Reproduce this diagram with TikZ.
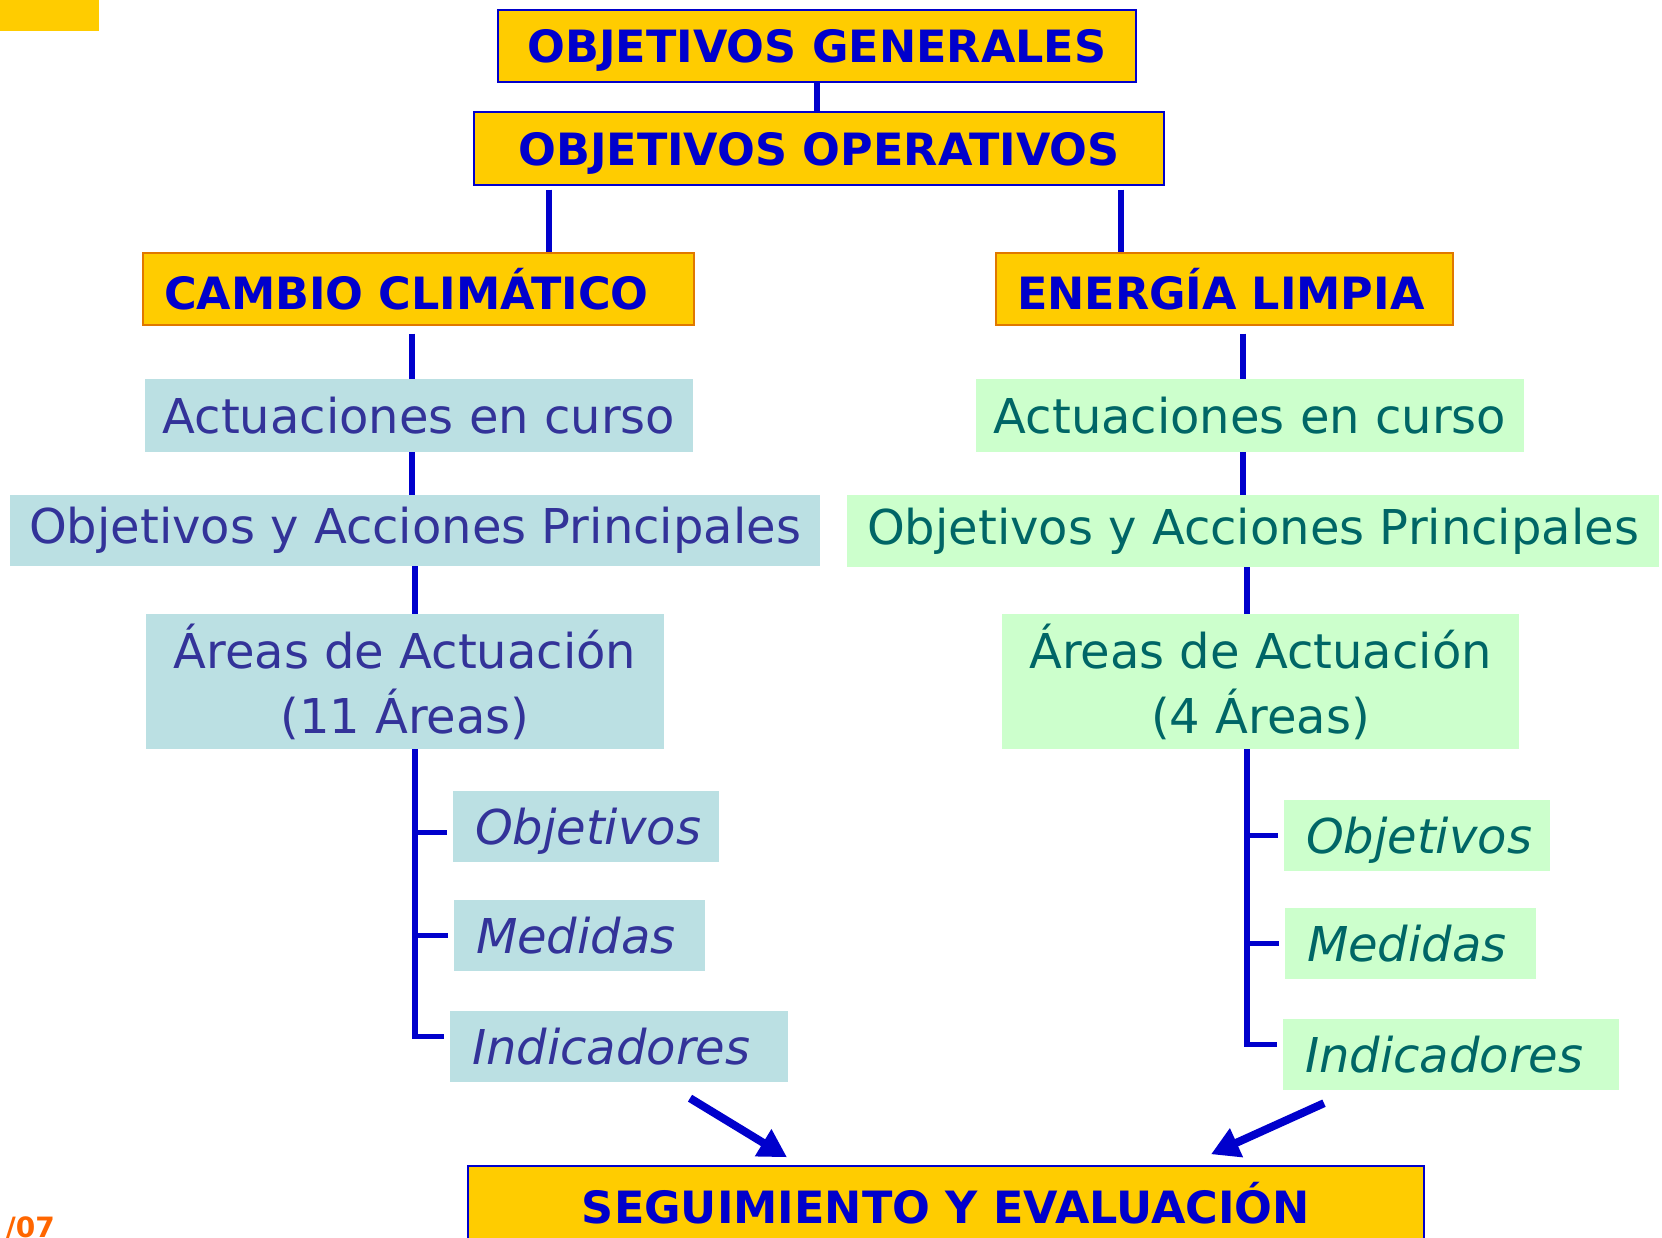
\documentclass[tikz,border=0pt]{standalone}
\usepackage{fontspec}
\setmainfont{DejaVu Sans}
\usepackage{tikz}
\usetikzlibrary{arrows.meta,positioning}
\definecolor{oro}{HTML}{FFCC00}
\definecolor{azul}{HTML}{0000CC}
\definecolor{naranja}{HTML}{E07800}
\definecolor{pagina}{HTML}{FF6600}
\definecolor{fondocc}{HTML}{BBE0E3}
\definecolor{tintacc}{HTML}{333399}
\definecolor{fondoel}{HTML}{CCFFCC}
\definecolor{tintael}{HTML}{006666}
\tikzset{x=1pt,y=-1pt,every node/.style={inner sep=0pt},
    titulo/.style={draw=azul,line width=1.5pt,fill=oro,text=azul,align=center,
        font=\fontsize{44.5}{50}\selectfont\bfseries},
    tema/.style={draw=naranja,line width=1.5pt,fill=oro,text=azul,align=left,inner xsep=21pt,
        font=\fontsize{44.5}{50}\selectfont\bfseries},
    cc/.style={fill=fondocc,text=tintacc,align=center,font=\fontsize{48}{65}\selectfont},
    el/.style={fill=fondoel,text=tintael,align=center,font=\fontsize{48}{65}\selectfont},
    lista/.style={align=left,inner xsep=22pt,text depth=0pt,font=\fontsize{48}{58}\selectfont\itshape},
    rama/.style={draw=azul,line width=5.5pt},
    flecha/.style={draw=azul,line width=8pt,-{Triangle[length=28pt,width=30pt]}}}

\begin{document}
\begin{tikzpicture}
    \useasboundingbox (0,0) rectangle (1662,1238);
    \fill[oro] (0,0) rectangle (99,31);
    \node[titulo,minimum width=638pt,minimum height=72pt,text height=42pt] (gen) at (817,46) {OBJETIVOS GENERALES};
    \node[titulo,minimum width=690pt,minimum height=73pt,text height=42pt] (op) at (819,148.5) {OBJETIVOS OPERATIVOS};
    \node[tema,text width=509pt,minimum height=72pt] (cc) at (418.5,289) {CAMBIO CLIMÁTICO};
    \node[tema,text width=415pt,minimum height=72pt] (el) at (1224.5,289) {ENERGÍA LIMPIA};
    % cambio climatico
    \node[cc,minimum width=548pt,minimum height=73pt] (a1) at (419,415.5) {Actuaciones en curso};
    \node[cc,minimum width=810pt,minimum height=71pt] (b1) at (415,530.5) {Objetivos y Acciones Principales};
    \node[cc,minimum width=518pt,minimum height=135pt] (c1) at (405,681.5) {Áreas de Actuación\\(11 Áreas)};
    \node[cc,lista,text width=222pt,minimum height=71pt] (o1) at (586,826.5) {Objetivos};
    \node[cc,lista,text width=207pt,minimum height=71pt] (m1) at (579.5,935.5) {Medidas};
    \node[cc,lista,text width=294pt,minimum height=71pt] (i1) at (619,1046.5) {Indicadores};
    % energia limpia
    \node[el,minimum width=548pt,minimum height=73pt] (a2) at (1250,415.5) {Actuaciones en curso};
    \node[el,minimum width=812pt,minimum height=72pt] (b2) at (1253,531) {Objetivos y Acciones Principales};
    \node[el,minimum width=517pt,minimum height=135pt] (c2) at (1260.5,681.5) {Áreas de Actuación\\(4 Áreas)};
    \node[el,lista,text width=222pt,minimum height=71pt] (o2) at (1417,835.5) {Objetivos};
    \node[el,lista,text width=207pt,minimum height=71pt] (m2) at (1410.5,943.5) {Medidas};
    \node[el,lista,text width=292pt,minimum height=71pt] (i2) at (1451,1054.5) {Indicadores};
    \node[titulo,minimum width=956pt,minimum height=74pt] (seg) at (946,1203) {SEGUIMIENTO Y EVALUACIÓN};
    \node[anchor=base east,text=pagina,font=\fontsize{28}{30}\selectfont\bfseries] (pag) at (55,1237) {/07};
    \path[rama]
    (gen.south) edge (gen.south |- op.north)
    ([yshift=-4pt]op.south -| 549,0) edge (cc.north -| 549,0)
    ([yshift=-4pt]op.south -| 1121,0) edge (el.north -| 1121,0)
    ([yshift=-8pt]cc.south -| 412,0) edge (a1.north -| 412,0)
    (a1.south -| 412,0) edge (b1.north -| 412,0)
    (b1.south -| 415,0) edge (c1.north -| 415,0)
    ([yshift=-8pt]el.south -| 1243,0) edge (a2.north -| 1243,0)
    (a2.south -| 1243,0) edge (b2.north -| 1243,0)
    (b2.south -| 1247,0) edge (c2.north -| 1247,0)
    ;
    \draw[rama] (c1.south -| 415,0) |- ([xshift=-6pt,yshift=10pt]i1.west);
    \draw[rama] ([yshift=-6pt]o1.west -| 415,0) -- ([xshift=-6pt,yshift=-6pt]o1.west);
    \draw[rama] (m1.west -| 415,0) -- ([xshift=-6pt]m1.west);
    \draw[rama] (c2.south -| 1247,0) |- ([xshift=-6pt,yshift=10pt]i2.west);
    \draw[rama] (o2.west -| 1247,0) -- ([xshift=-6pt]o2.west);
    \draw[rama] (m2.west -| 1247,0) -- ([xshift=-6pt]m2.west);
    \draw[flecha] ([xshift=71pt,yshift=-16pt]i1.south) -- ([xshift=-159pt,yshift=8pt]seg.north);
    \draw[flecha] ([xshift=-127pt,yshift=-13pt]i2.south) -- ([xshift=265pt,yshift=11pt]seg.north);
\end{tikzpicture}
\end{document}
